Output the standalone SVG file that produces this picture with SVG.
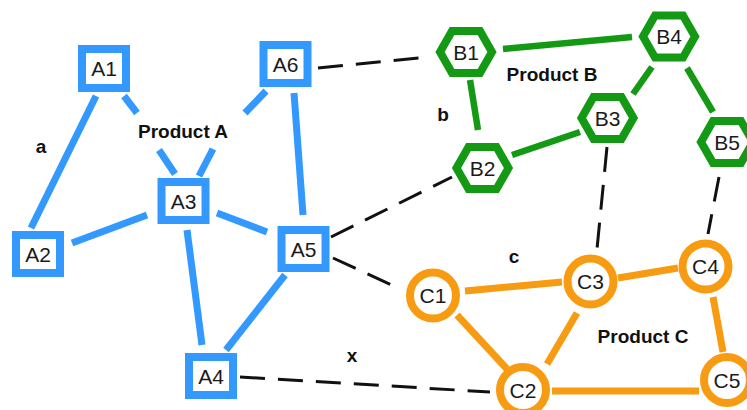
<svg xmlns="http://www.w3.org/2000/svg" width="747" height="410" viewBox="0 0 747 410">
<style>
.bg{fill:#ffffff}
.eA{stroke:#3399ff;stroke-width:7;fill:none}
.eB{stroke:#139913;stroke-width:6.5;fill:none}
.eC{stroke:#f79c12;stroke-width:7;fill:none}
.dash{stroke:#111111;stroke-width:3;fill:none;stroke-dasharray:25 13}
.nA{fill:#ffffff;stroke:#3399ff;stroke-width:8}
.nB{fill:#ffffff;stroke:#139913;stroke-width:8;stroke-linejoin:miter}
.nC{fill:#ffffff;stroke:#f79c12;stroke-width:8}
.t{font-family:"Liberation Sans",Arial,sans-serif;font-size:21px;fill:#1a1a1a;text-anchor:middle}
.lbl{font-family:"Liberation Sans",Arial,sans-serif;font-size:19px;font-weight:bold;fill:#111111;text-anchor:middle}
</style>
<defs>
<polygon id="hex" points="-26,0 -14,-21 14,-21 26,0 14,21 -14,21"/>
</defs>
<rect class="bg" x="0" y="0" width="747" height="410"/>
<g id="connectors">
<line class="eA" x1="96" y1="96" x2="31" y2="228"/>
<line class="eA" x1="124" y1="96" x2="137" y2="113"/>
<line class="eA" x1="159" y1="150" x2="175" y2="174"/>
<line class="eA" x1="266" y1="91" x2="245" y2="113"/>
<line class="eA" x1="213" y1="149" x2="199" y2="176"/>
<line class="eA" x1="294" y1="93" x2="303" y2="215"/>
<line class="eA" x1="147" y1="215" x2="72" y2="243"/>
<line class="eA" x1="217" y1="213" x2="267" y2="232"/>
<line class="eA" x1="187" y1="230" x2="202" y2="345"/>
<line class="eA" x1="285" y1="275" x2="226" y2="350"/>
<line class="eB" x1="503" y1="49" x2="632" y2="37"/>
<line class="eB" x1="470" y1="80" x2="478" y2="130"/>
<line class="eB" x1="512" y1="155" x2="580" y2="132"/>
<line class="eB" x1="633" y1="94" x2="652" y2="67"/>
<line class="eB" x1="687" y1="68" x2="713" y2="112"/>
<line class="eC" x1="465" y1="291" x2="562" y2="282"/>
<line class="eC" x1="618" y1="278" x2="678" y2="268"/>
<line class="eC" x1="457" y1="315" x2="507" y2="369"/>
<line class="eC" x1="577" y1="313" x2="547" y2="364"/>
<line class="eC" x1="713" y1="297" x2="723" y2="352"/>
<line class="eC" x1="552" y1="391" x2="699" y2="391"/>
<line class="dash" x1="318" y1="68" x2="428" y2="57"/>
<line class="dash" x1="331" y1="237" x2="452" y2="177"/>
<line class="dash" x1="607" y1="147" x2="597" y2="249"/>
<line class="dash" x1="719" y1="177" x2="708" y2="234"/>
<line class="dash" x1="333" y1="258" x2="398" y2="288"/>
<line class="dash" x1="240" y1="377" x2="490" y2="392"/>
</g>
<g id="A1"><rect class="nA" x="82" y="49" width="44" height="39"/><text class="t" x="104" y="76">A1</text></g>
<g id="A6"><rect class="nA" x="263.5" y="45" width="44" height="38"/><text class="t" x="285.5" y="71.5">A6</text></g>
<g id="A3"><rect class="nA" x="161.5" y="182" width="44" height="38"/><text class="t" x="183.5" y="208.5">A3</text></g>
<g id="A2"><rect class="nA" x="16" y="235" width="44" height="38"/><text class="t" x="38" y="261.5">A2</text></g>
<g id="A5"><rect class="nA" x="281.5" y="230" width="44" height="38"/><text class="t" x="303.5" y="256.5">A5</text></g>
<g id="A4"><rect class="nA" x="189" y="357" width="44" height="38"/><text class="t" x="211" y="383.5">A4</text></g>
<g id="B1"><use href="#hex" class="nB" x="466" y="52"/><text class="t" x="466" y="59.5">B1</text></g>
<g id="B4"><use href="#hex" class="nB" x="669" y="36.5"/><text class="t" x="669" y="44">B4</text></g>
<g id="B3"><use href="#hex" class="nB" x="607.5" y="118"/><text class="t" x="607.5" y="125.5">B3</text></g>
<g id="B2"><use href="#hex" class="nB" x="482.5" y="168"/><text class="t" x="482.5" y="175.5">B2</text></g>
<g id="B5"><use href="#hex" class="nB" x="727" y="142"/><text class="t" x="727" y="149.5">B5</text></g>
<g id="C1"><circle class="nC" cx="433" cy="295.5" r="23"/><text class="t" x="433" y="303">C1</text></g>
<g id="C3"><circle class="nC" cx="590.5" cy="281.5" r="23"/><text class="t" x="590.5" y="289">C3</text></g>
<g id="C4"><circle class="nC" cx="705.5" cy="266.5" r="23"/><text class="t" x="705.5" y="274">C4</text></g>
<g id="C2"><circle class="nC" cx="523" cy="390" r="23"/><text class="t" x="523" y="397.5">C2</text></g>
<g id="C5"><circle class="nC" cx="727" cy="380" r="23"/><text class="t" x="727" y="387.5">C5</text></g>
<g id="labels">
<text class="lbl" x="41" y="153">a</text>
<text class="lbl" x="183" y="138">Product A</text>
<text class="lbl" x="443" y="121">b</text>
<text class="lbl" x="552" y="81">Product B</text>
<text class="lbl" x="514" y="263">c</text>
<text class="lbl" x="352" y="362">x</text>
<text class="lbl" x="643" y="343">Product C</text>
</g>
</svg>
